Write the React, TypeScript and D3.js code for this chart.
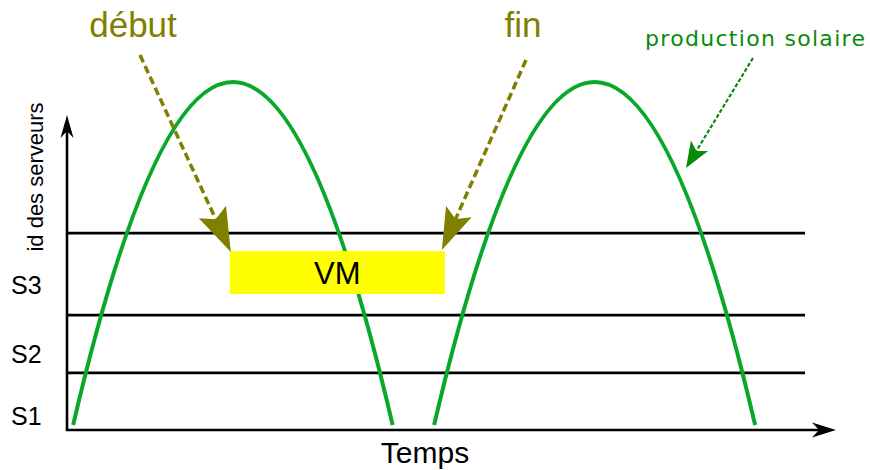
import React from "react";
import * as d3 from "d3";

// ---- data (arbitrary units) ----
const timeDomain = [0, 100];
const serverDomain = [0, 100];
const serverNames = ["S1", "S2", "S3"];
const serverLabelLevels = [4.5, 24.2, 46.3];
const serverBoundaries = [18.2, 36.6, 62.7];
const boundaryEnd = 96.1;
const solarStarts = [0.8, 47.8];
const solarEnds = [42.4, 89.6];
const solarPeaks = [1, 1];
const vmStart = 21.2;
const vmEnd = 49.2;
const vmLow = 43.3;
const vmHigh = 57.0;
const vmLabel = "VM";

const W = 870;
const H = 470;
const FONT = "'Liberation Sans', Arial, sans-serif";
const OLIVE = "#808000";
const GREEN = "#0aa82a";
const DGREEN = "#078c0a";

function arrowHead(tip: [number, number], from: [number, number], len: number, half: number, notch: number) {
  const dx = tip[0] - from[0];
  const dy = tip[1] - from[1];
  const L = Math.hypot(dx, dy);
  const ux = dx / L, uy = dy / L;
  const px = -uy, py = ux;
  const bx = tip[0] - ux * len, by = tip[1] - uy * len;
  const nx = tip[0] - ux * notch, ny = tip[1] - uy * notch;
  const p = d3.path();
  p.moveTo(tip[0], tip[1]);
  p.lineTo(bx + px * half, by + py * half);
  p.lineTo(nx, ny);
  p.lineTo(bx - px * half, by - py * half);
  p.closePath();
  return { d: p.toString(), base: [tip[0] - ux * notch, tip[1] - uy * notch] as [number, number] };
}

export default function App() {
  const x = d3.scaleLinear().domain(timeDomain).range([67, 835]);
  const y = d3.scaleLinear().domain(serverDomain).range([430, 116]);
  const prod = d3.scaleLinear().domain([0, 1]).range([425, 82]);

  const arcs = solarStarts.map((s, i) => {
    const e = solarEnds[i];
    const m = (s + e) / 2;
    const base = prod(0);
    const peak = prod(solarPeaks[i]);
    const p = d3.path();
    p.moveTo(x(s), base);
    p.quadraticCurveTo(x(m), 2 * peak - base, x(e), base);
    return p.toString();
  });

  const debutTip: [number, number] = [x(vmStart) + 1, y(vmHigh) + 1];
  const debutFrom: [number, number] = [140, 55];
  const debutHead = arrowHead(debutTip, debutFrom, 44, 15, 36);
  const finTip: [number, number] = [x(vmEnd) - 3, y(vmHigh) - 1];
  const finFrom: [number, number] = [526, 60];
  const finHead = arrowHead(finTip, finFrom, 42, 14, 34);
  const prodTip: [number, number] = [686, 168];
  const prodFrom: [number, number] = [753, 58];
  const prodHead = arrowHead(prodTip, prodFrom, 26, 10, 20);

  const yAxisHead = arrowHead([67, 115], [67, 430], 23, 6.5, 16);
  const xAxisHead = arrowHead([836, 430], [67, 430], 24, 7.5, 17);

  return (
    <svg width={W} height={H} style={{ position: "absolute", left: 0, top: 0, background: "#fff" }}>
      <rect x={0} y={0} width={W} height={H} fill="#fff" />
      {/* server boundaries */}
      {serverBoundaries.map((b, i) => (
        <line key={i} x1={x(0)} x2={x(boundaryEnd)} y1={y(b)} y2={y(b)} stroke="#000" strokeWidth={2.6} />
      ))}
      {/* solar production */}
      {arcs.map((d, i) => (
        <path key={i} d={d} fill="none" stroke={GREEN} strokeWidth={4} />
      ))}
      {/* VM */}
      <rect x={x(vmStart)} y={y(vmHigh)} width={x(vmEnd) - x(vmStart)} height={y(vmLow) - y(vmHigh)} fill="#ffff00" />
      <text x={(x(vmStart) + x(vmEnd)) / 2} y={(y(vmHigh) + y(vmLow)) / 2} dy="0.36em" textAnchor="middle" fontFamily={FONT} fontSize={31} fill="#000">{vmLabel}</text>
      {/* axes */}
      <line x1={67} x2={67} y1={431} y2={125} stroke="#000" strokeWidth={2.6} />
      <line x1={66} x2={826} y1={430} y2={430} stroke="#000" strokeWidth={2.6} />
      <path d={yAxisHead.d} fill="#000" />
      <path d={xAxisHead.d} fill="#000" />
      {serverNames.map((n, i) => (
        <text key={n} x={11} y={y(serverLabelLevels[i])} dy="0.36em" fontFamily={FONT} fontSize={25} fill="#000">{n}</text>
      ))}
      <text transform="translate(43,177) rotate(-90)" textAnchor="middle" fontFamily={FONT} fontSize={22} fill="#000">id des serveurs</text>
      <text x={425} y={463} textAnchor="middle" fontFamily={FONT} fontSize={30} fill="#000">Temps</text>
      {/* annotations */}
      <text x={133} y={37} textAnchor="middle" fontFamily={FONT} fontSize={35} fill={OLIVE}>début</text>
      <line x1={debutFrom[0]} y1={debutFrom[1]} x2={debutHead.base[0]} y2={debutHead.base[1]} stroke={OLIVE} strokeWidth={3.5} strokeDasharray="8,4" />
      <path d={debutHead.d} fill={OLIVE} />
      <text x={523} y={37} textAnchor="middle" fontFamily={FONT} fontSize={35} fill={OLIVE}>fin</text>
      <line x1={finFrom[0]} y1={finFrom[1]} x2={finHead.base[0]} y2={finHead.base[1]} stroke={OLIVE} strokeWidth={3.5} strokeDasharray="8,4" />
      <path d={finHead.d} fill={OLIVE} />
      <text x={645} y={46} fontFamily="'DejaVu Sans', sans-serif" fontSize={22} letterSpacing={1.3} fill={DGREEN}>production solaire</text>
      <line x1={prodFrom[0]} y1={prodFrom[1]} x2={prodHead.base[0]} y2={prodHead.base[1]} stroke={DGREEN} strokeWidth={2.2} strokeDasharray="4,2" />
      <path d={prodHead.d} fill={DGREEN} />
    </svg>
  );
}
